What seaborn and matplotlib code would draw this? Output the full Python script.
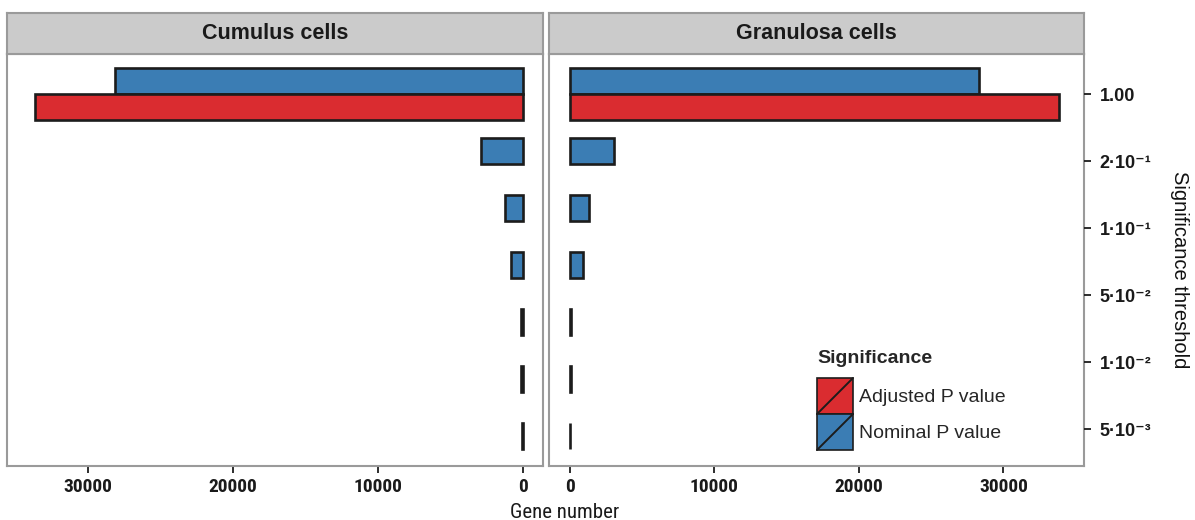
import matplotlib
matplotlib.use("Agg")
import matplotlib.pyplot as plt
from matplotlib import font_manager
from matplotlib.legend_handler import HandlerBase
from matplotlib.patches import Patch, Rectangle
from matplotlib.lines import Line2D
import pandas as pd
import seaborn as sns

sns.set_style('white')

# Data
threshold_rows = ["1", "0.2", "0.1", "0.05", "0.01", "0.005", "0.001"]
threshold_labels = ["1.00", "2·10⁻¹", "1·10⁻¹", "5·10⁻²", "1·10⁻²", "5·10⁻³"]
cumulus_nominal = [28120, 2890, 1180, 820, 120, 80, 50]
cumulus_adjusted = [33670, 0, 0, 0, 0, 0, 0]
granulosa_nominal = [28300, 3060, 1320, 940, 120, 80, 50]
granulosa_adjusted = [33840, 0, 0, 0, 0, 0, 0]
panel_titles = ["Cumulus cells", "Granulosa cells"]
sig_levels = ["Adjusted P value", "Nominal P value"]

RED = "#da2c30"
BLUE = "#3b7db4"
EDGE = "#1c1c1c"
GREY = "#9a9a9a"

available = {f.name for f in font_manager.fontManager.ttflist}


def pick(*names):
    return next((n for n in names if n in available), "DejaVu Sans")


NARROW = pick("Liberation Sans Narrow", "DejaVu Sans Condensed", "Roboto Condensed", "Liberation Sans")
SANS = pick("Liberation Sans", "Arial", "DejaVu Sans")


class DiagonalBox(HandlerBase):
    """ggplot-like legend key: filled square with a diagonal line"""
    def create_artists(self, legend, orig_handle, xdescent, ydescent, width, height, fontsize, trans):
        x0, y0 = -xdescent, -ydescent
        box = Rectangle((x0, y0), width, height, facecolor=orig_handle.get_facecolor(),
                        edgecolor=EDGE, linewidth=1.2, transform=trans)
        diag = Line2D([x0, x0 + width], [y0, y0 + height], color=EDGE, linewidth=1.4, transform=trans)
        return [box, diag]


def panel_frame(nominal, adjusted):
    rows = []
    for thr, nom, adj in zip(threshold_rows, nominal, adjusted):
        rows.append({"threshold": thr, "count": nom, "significance": "Nominal P value", "both": adj > 0})
        if adj > 0:
            rows.append({"threshold": thr, "count": adj, "significance": "Adjusted P value", "both": True})
    return pd.DataFrame(rows)


def draw_panel(ax, nominal, adjusted):
    df = panel_frame(nominal, adjusted)
    bar_kw = dict(x="count", y="threshold", order=threshold_rows, orient="y", saturation=1,
                  errorbar=None, edgecolor=EDGE, linewidth=1.9, legend=False, ax=ax)
    # rows with both significance types -> dodged pair
    sns.barplot(data=df[df["both"]], hue="significance",
                hue_order=["Nominal P value", "Adjusted P value"],
                palette={"Nominal P value": BLUE, "Adjusted P value": RED},
                width=0.912, dodge=True, **bar_kw)
    # rows with only nominal -> single centred bar
    sns.barplot(data=df[~df["both"]], color=BLUE, width=0.456, **bar_kw)
    ax.set_ylim(6.53, -0.70)
    ax.set_xlabel("")
    ax.set_ylabel("")
    ax.set_yticks([])
    for sp in ax.spines.values():
        sp.set_visible(True)
        sp.set_color(GREY)
        sp.set_linewidth(1.5)
    ax.tick_params(axis="x", bottom=True, length=4.7, width=1.3, color=EDGE, pad=4)


fig = plt.figure(figsize=(11.95, 5.2), dpi=100)
W, H = 1195, 520

ax_bottom = (H - 466) / H
ax_height = (466 - 54) / H
axL = fig.add_axes([6.7 / W, ax_bottom, (543.3 - 6.7) / W, ax_height])
axR = fig.add_axes([548.7 / W, ax_bottom, (1084.3 - 548.7) / W, ax_height])

draw_panel(axL, cumulus_nominal, cumulus_adjusted)
draw_panel(axR, granulosa_nominal, granulosa_adjusted)

axL.set_xlim(35620, -1436)
axR.set_xlim(-1452, 35590)

tick_font = dict(fontsize=14, fontweight="bold", family=NARROW, color="#1a1a1a")
axL.set_xticks([30000, 20000, 10000, 0], labels=["30000", "20000", "10000", "0"], **tick_font)
axR.set_xticks([0, 10000, 20000, 30000], labels=["0", "10000", "20000", "30000"], **tick_font)

# threshold labels on the right side
twin = axR.twinx()
twin.set_ylim(5.55, -0.60)
twin.set_yticks(range(len(threshold_labels)), labels=threshold_labels,
                fontsize=13, fontweight="bold", family=[SANS, "DejaVu Sans"], color="#1a1a1a")
twin.tick_params(axis="y", right=True, length=5, width=1.3, color=EDGE, pad=6)
for sp in twin.spines.values():
    sp.set_visible(False)

# facet strips
for (x0, x1), title in zip([(6.7, 543.3), (548.7, 1084.3)], panel_titles):
    strip = fig.add_axes([x0 / W, (H - 54) / H, (x1 - x0) / W, (54 - 13.3) / H])
    strip.set_facecolor("#cbcbcb")
    strip.set_xticks([])
    strip.set_yticks([])
    for sp in strip.spines.values():
        sp.set_color(GREY)
        sp.set_linewidth(1.5)
    strip.text(0.5, 0.5, title, ha="center", va="center", fontsize=15.5,
               fontweight="bold", family=SANS, color="#1a1a1a", transform=strip.transAxes)

fig.text(565 / W, 1 - 512 / H, "Gene number", ha="center", va="center",
         fontsize=15, family=NARROW, color="#1a1a1a")
fig.text(1180 / W, 1 - 270 / H, "Significance threshold", ha="center", va="center",
         rotation=270, fontsize=14.5, family=SANS, color="#111111")

handles = [Patch(facecolor=RED), Patch(facecolor=BLUE)]
leg = axR.legend(handles, sig_levels, title="Significance", loc="lower left",
                 bbox_to_anchor=(817 / W, 1 - 450 / H), bbox_transform=fig.transFigure,
                 frameon=False, borderpad=0, borderaxespad=0, handlelength=1.85,
                 handleheight=2.47, labelspacing=0, handletextpad=0.3,
                 handler_map={Patch: DiagonalBox()}, alignment="left",
                 prop={"family": SANS, "size": 14},
                 title_fontproperties={"family": SANS, "size": 14, "weight": "bold"})
leg._legend_box.sep = 8  # gap between title and keys

fig.savefig("out.png", dpi=100)
